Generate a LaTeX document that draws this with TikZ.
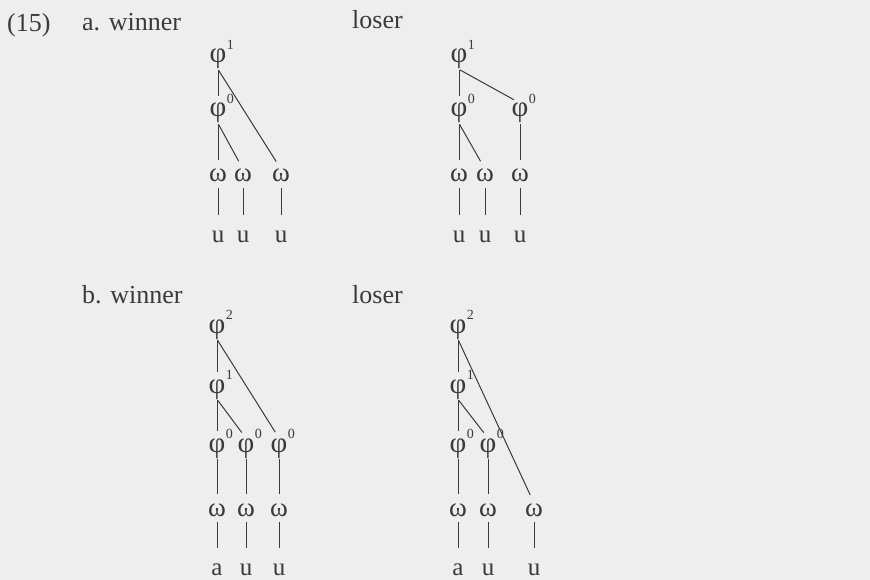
\documentclass[tikz,border=0pt]{standalone}
\usepackage{fontspec}
\setmainfont{Liberation Serif}
\begin{document}
\begin{tikzpicture}[x=1pt,y=-1pt,
  every node/.style={inner sep=0pt, text=ink},
  lab/.style={anchor=base west, font=\fontsize{26}{30}\selectfont},
  phi/.style={anchor=base, font=\fontsize{29}{32}\selectfont},
  om/.style={anchor=base, font=\fontsize{27}{30}\selectfont},
  seg/.style={anchor=base, font=\fontsize{25}{28}\selectfont},
  sup/.style={anchor=south west, font=\fontsize{14}{16}\selectfont, xshift=0pt, yshift=-1pt},
  br/.style={draw=ink, line width=1pt},
  tophi/.style={br, shorten <=1pt, shorten >=7pt},
  toom/.style={br, shorten <=1pt, shorten >=9pt},
  tou/.style={br, shorten <=6pt, shorten >=15pt}]
\definecolor{ink}{RGB}{58,58,58}
\definecolor{paper}{RGB}{238,238,238}
\useasboundingbox (0,0) rectangle (870,580);
\fill[paper] (0,0) rectangle (870,580);

% labels
\node[lab] (ex) at (7,32) {(15)};
\node[lab] (awin) at (82,31) {a. winner};
\node[lab] (alos) at (352,29) {loser};
\node[lab] (bwin) at (82,303) {b. winner};
\node[lab] (blos) at (352,303) {loser};

% ---- tree a, winner
\node[phi] (aWp1) at (218,63) {φ};
\node[sup] at (aWp1.north east) {1};
\node[phi] (aWp0) at (218,117) {φ};
\node[sup] at (aWp0.north east) {0};
\node[om] (aWw1) at (218,182) {ω};
\node[om] (aWw2) at (243,182) {ω};
\node[om] (aWw3) at (281,182) {ω};
\node[seg] (aWu1) at (218,242) {u};
\node[seg] (aWu2) at (243,242) {u};
\node[seg] (aWu3) at (281,242) {u};
\draw[tophi] (aWp1.south) -- (aWp0.north);
\draw[toom] (aWp1.south) -- (aWw3.north);
\draw[toom] (aWp0.south) -- (aWw1.north);
\draw[toom] (aWp0.south) -- (aWw2.north);
\draw[tou] (aWw1.south) -- (aWu1.north);
\draw[tou] (aWw2.south) -- (aWu2.north);
\draw[tou] (aWw3.south) -- (aWu3.north);

% ---- tree a, loser
\node[phi] (aLp1) at (459,63) {φ};
\node[sup] at (aLp1.north east) {1};
\node[phi] (aLp0a) at (459,117) {φ};
\node[sup] at (aLp0a.north east) {0};
\node[phi] (aLp0b) at (520,117) {φ};
\node[sup] at (aLp0b.north east) {0};
\node[om] (aLw1) at (459,182) {ω};
\node[om] (aLw2) at (485,182) {ω};
\node[om] (aLw3) at (520,182) {ω};
\node[seg] (aLu1) at (459,242) {u};
\node[seg] (aLu2) at (485,242) {u};
\node[seg] (aLu3) at (520,242) {u};
\draw[tophi] (aLp1.south) -- (aLp0a.north);
\draw[tophi] (aLp1.south) -- (aLp0b.north);
\draw[toom] (aLp0a.south) -- (aLw1.north);
\draw[toom] (aLp0a.south) -- (aLw2.north);
\draw[toom] (aLp0b.south) -- (aLw3.north);
\draw[tou] (aLw1.south) -- (aLu1.north);
\draw[tou] (aLw2.south) -- (aLu2.north);
\draw[tou] (aLw3.south) -- (aLu3.north);

% ---- tree b, winner
\node[phi] (bWp2) at (217,333) {φ};
\node[sup] at (bWp2.north east) {2};
\node[phi] (bWp1) at (217,393) {φ};
\node[sup] at (bWp1.north east) {1};
\node[phi] (bWp0a) at (217,452) {φ};
\node[sup] at (bWp0a.north east) {0};
\node[phi] (bWp0b) at (246,452) {φ};
\node[sup] at (bWp0b.north east) {0};
\node[phi] (bWp0c) at (279,452) {φ};
\node[sup] at (bWp0c.north east) {0};
\node[om] (bWw1) at (217,516) {ω};
\node[om] (bWw2) at (246,516) {ω};
\node[om] (bWw3) at (279,516) {ω};
\node[seg] (bWu1) at (217,575) {a};
\node[seg] (bWu2) at (246,575) {u};
\node[seg] (bWu3) at (279,575) {u};
\draw[tophi] (bWp2.south) -- (bWp1.north);
\draw[tophi] (bWp2.south) -- (bWp0c.north);
\draw[tophi] (bWp1.south) -- (bWp0a.north);
\draw[tophi] (bWp1.south) -- (bWp0b.north);
\draw[toom] (bWp0a.south) -- (bWw1.north);
\draw[toom] (bWp0b.south) -- (bWw2.north);
\draw[toom] (bWp0c.south) -- (bWw3.north);
\draw[tou] (bWw1.south) -- (bWu1.north);
\draw[tou] (bWw2.south) -- (bWu2.north);
\draw[tou] (bWw3.south) -- (bWu3.north);

% ---- tree b, loser
\node[phi] (bLp2) at (458,333) {φ};
\node[sup] at (bLp2.north east) {2};
\node[phi] (bLp1) at (458,393) {φ};
\node[sup] at (bLp1.north east) {1};
\node[phi] (bLp0a) at (458,452) {φ};
\node[sup] at (bLp0a.north east) {0};
\node[phi] (bLp0b) at (488,452) {φ};
\node[sup] at (bLp0b.north east) {0};
\node[om] (bLw1) at (458,516) {ω};
\node[om] (bLw2) at (488,516) {ω};
\node[om] (bLw3) at (534,516) {ω};
\node[seg] (bLu1) at (458,575) {a};
\node[seg] (bLu2) at (488,575) {u};
\node[seg] (bLu3) at (534,575) {u};
\draw[tophi] (bLp2.south) -- (bLp1.north);
\draw[toom] (bLp2.south) -- (bLw3.north);
\draw[tophi] (bLp1.south) -- (bLp0a.north);
\draw[tophi] (bLp1.south) -- (bLp0b.north);
\draw[toom] (bLp0a.south) -- (bLw1.north);
\draw[toom] (bLp0b.south) -- (bLw2.north);
\draw[tou] (bLw1.south) -- (bLu1.north);
\draw[tou] (bLw2.south) -- (bLu2.north);
\draw[tou] (bLw3.south) -- (bLu3.north);
\end{tikzpicture}
\end{document}
